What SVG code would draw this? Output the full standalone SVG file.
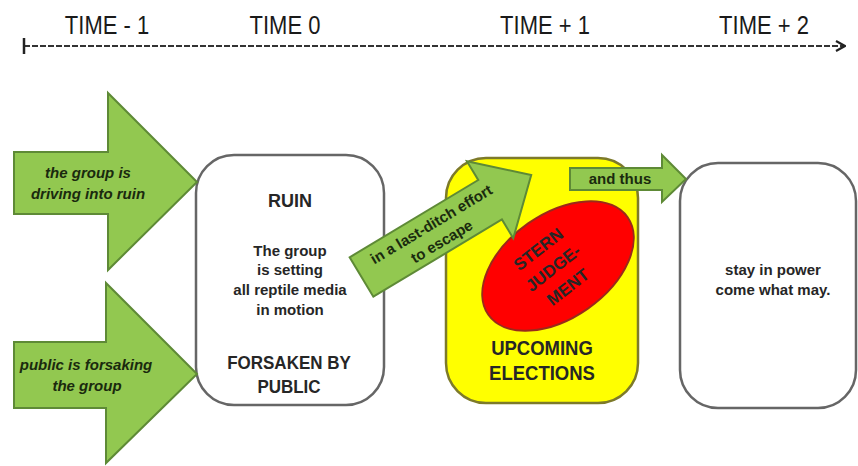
<svg xmlns="http://www.w3.org/2000/svg" width="858" height="466" viewBox="0 0 858 466">
<defs>
<style>
.time{font-family:"Liberation Sans",Arial,sans-serif;font-size:22px;fill:#1a1a1a;text-anchor:middle}
.garrow{fill:#92c850;stroke:#5e8a36;stroke-width:2}
.gtxt{font-family:"Liberation Sans",Arial,sans-serif;font-size:15px;font-weight:bold;font-style:italic;fill:#1a2a0e;text-anchor:middle}
.box{fill:#fff;stroke:#666;stroke-width:2.5}
.bt{font-family:"Liberation Sans",Arial,sans-serif;font-weight:bold;fill:#262626;text-anchor:middle}
.ctxt{font-family:"Liberation Sans",Arial,sans-serif;font-size:15px;font-weight:bold;fill:#1a2a0e;text-anchor:middle}
</style>
<marker id="open" viewBox="0 0 12 12" refX="11" refY="6" markerWidth="12" markerHeight="12" markerUnits="userSpaceOnUse" orient="auto">
<path d="M2,1 L11,6 L2,11" fill="none" stroke="#222" stroke-width="2.2"/>
</marker>
</defs>
<rect width="858" height="466" fill="#fff"/>

<g id="timeline">
<line x1="24" y1="46" x2="845" y2="46" stroke="#333" stroke-width="2" stroke-dasharray="6,2" marker-end="url(#open)"/>
<line x1="24" y1="38" x2="24" y2="54" stroke="#222" stroke-width="2.5"/>
<text class="time" transform="translate(107,34) scale(1,1.2)">TIME - 1</text>
<text class="time" transform="translate(285,34) scale(1,1.2)">TIME 0</text>
<text class="time" transform="translate(545,34) scale(1,1.2)">TIME + 1</text>
<text class="time" transform="translate(764,34) scale(1,1.2)">TIME + 2</text>
</g>

<g id="ruin">
<rect class="box" x="196" y="155" width="188" height="250" rx="38"/>
<text class="bt" x="290" y="207" font-size="18">RUIN</text>
<text class="bt" x="290" y="256" font-size="15">The group</text>
<text class="bt" x="290" y="275" font-size="15">is setting</text>
<text class="bt" x="290" y="295" font-size="15">all reptile media</text>
<text class="bt" x="290" y="315" font-size="15">in motion</text>
<text class="bt" transform="translate(289,369) scale(1,1.12)" font-size="17">FORSAKEN BY</text>
<text class="bt" transform="translate(289,393) scale(1,1.12)" font-size="17">PUBLIC</text>
</g>

<g id="elections">
<rect x="446" y="158" width="192" height="245" rx="40" fill="#ffff00" stroke="#7d7a2a" stroke-width="2.5"/>
<text class="bt" transform="translate(542,355) scale(1,1.1)" font-size="18.5" fill="#2a2a00">UPCOMING</text>
<text class="bt" transform="translate(542,380) scale(1,1.1)" font-size="18.5" fill="#2a2a00">ELECTIONS</text>
</g>

<g id="judgement">
<ellipse cx="558" cy="266" rx="85" ry="52" transform="rotate(-35 558 266)" fill="#ff0000" stroke="#9a2a1a" stroke-width="2"/>
<g transform="translate(553,268) rotate(-38)">
<text class="bt" x="0" y="-18" font-size="17" fill="#3c0606">STERN</text>
<text class="bt" x="0" y="6" font-size="17" fill="#3c0606">JUDGE-</text>
<text class="bt" x="0" y="30" font-size="17" fill="#3c0606">MENT</text>
</g>
</g>

<g id="power">
<rect class="box" x="680" y="163" width="176" height="245" rx="38"/>
<text class="bt" x="773" y="275" font-size="15">stay in power</text>
<text class="bt" x="773" y="295" font-size="15">come what may.</text>
</g>

<g id="connectors">
<g id="arrow-driving">
<polygon class="garrow" points="14,152 108,152 108,93 197,182 108,270 108,214 14,214"/>
<text class="gtxt" x="88" y="178">the group is</text>
<text class="gtxt" x="88" y="199">driving into ruin</text>
</g>
<g id="arrow-forsaking">
<polygon class="garrow" points="14,342 106,342 106,283 197,374 106,463 106,408 14,408"/>
<text class="gtxt" x="86" y="370">public is forsaking</text>
<text class="gtxt" x="87" y="391">the group</text>
</g>
<g id="arrow-escape" transform="translate(361.5,277) rotate(-31)">
<polygon class="garrow" points="0,-23 150,-23 150,-45 198,0 150,45 150,23 0,23"/>
<text class="ctxt" x="87" y="-4">in a last-ditch effort</text>
<text class="ctxt" x="87" y="16">to escape</text>
</g>
<g id="arrow-thus">
<polygon class="garrow" points="570,168 662,168 662,155 686,179 662,202 662,190 570,190"/>
<text class="ctxt" x="620" y="184">and thus</text>
</g>
</g>
</svg>
